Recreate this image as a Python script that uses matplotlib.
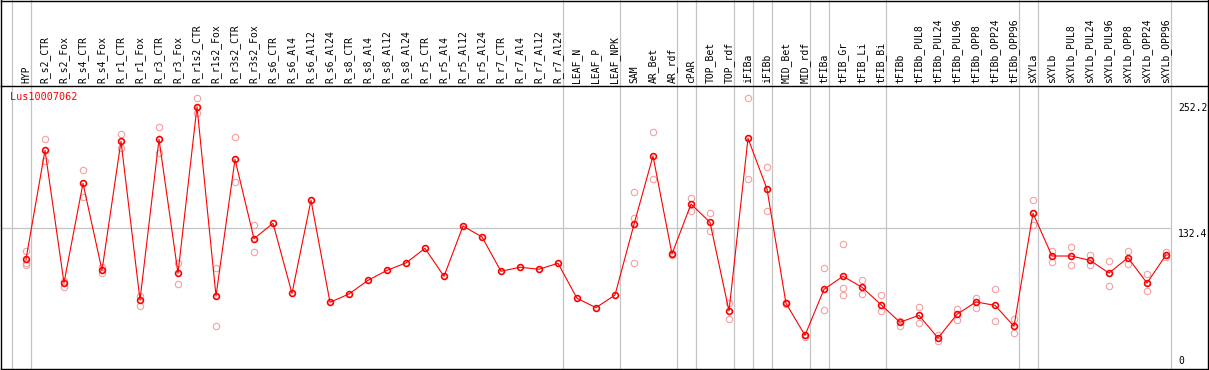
import matplotlib
matplotlib.use("Agg")
import matplotlib.pyplot as plt
from matplotlib.transforms import blended_transform_factory
from matplotlib.lines import Line2D

# ---------------- data ----------------
gene = "Lus10007062"

categories = [
    "HYP", "R_s2_CTR", "R_s2_Fox", "R_s4_CTR", "R_s4_Fox", "R_r1_CTR", "R_r1_Fox",
    "R_r3_CTR", "R_r3_Fox", "R_r1s2_CTR", "R_r1s2_Fox", "R_r3s2_CTR", "R_r3s2_Fox",
    "R_s6_CTR", "R_s6_Al4", "R_s6_Al12", "R_s6_Al24", "R_s8_CTR", "R_s8_Al4",
    "R_s8_Al12", "R_s8_Al24", "R_r5_CTR", "R_r5_Al4", "R_r5_Al12", "R_r5_Al24",
    "R_r7_CTR", "R_r7_Al4", "R_r7_Al12", "R_r7_Al24", "LEAF_N", "LEAF_P", "LEAF_NPK",
    "SAM", "AR_Bet", "AR_rdf", "cPAR", "TOP_Bet", "TOP_rdf", "iFIBa", "iFIBb",
    "MID_Bet", "MID_rdf", "tFIBa", "tFIB_Gr", "tFIB_Li", "tFIB_Bi", "tFIBb",
    "tFIBb_PUL8", "tFIBb_PUL24", "tFIBb_PUL96", "tFIBb_OPP8", "tFIBb_OPP24",
    "tFIBb_OPP96", "sXYLa", "sXYLb", "sXYLb_PUL8", "sXYLb_PUL24", "sXYLb_PUL96",
    "sXYLb_OPP8", "sXYLb_OPP24", "sXYLb_OPP96",
]

means = [
    102.9, 206.5, 80.6, 175.1, 92.4, 215.1, 64.2, 217.0, 89.6, 248.0, 68.0, 197.9, 122.5,
    137.1, 70.5, 159.0, 62.0, 69.9, 82.9, 92.4, 99.4, 113.3, 86.7, 134.5, 124.1,
    91.5, 95.3, 93.4, 99.1, 65.8, 56.9, 68.9,
    136.1, 201.1, 107.9, 155.4, 138.0, 53.7, 217.9, 169.7, 61.0, 30.6,
    74.3, 86.7, 76.3, 59.7, 43.0, 49.6, 28.0, 50.6, 62.3, 59.1, 39.2,
    146.6, 106.0, 106.0, 101.9, 89.8, 104.4, 80.3, 107.0,
]

replicates = [
    [110.8, 99.4, 97.5], [217.0, 196.3], [82.5, 76.8], [187.5, 161.8], [95.3, 90.1],
    [222.0, 208.4], [68.3, 58.8], [228.7, 204.2], [99.1, 79.1], [255.9, 241.7],
    [94.3, 39.7], [218.9, 176.1], [135.2, 109.5],
    [], [], [], [], [], [], [], [], [], [], [], [], [], [], [], [], [], [], [],
    [166.9, 142.1, 99.4], [223.6, 178.9], [108.9, 107.0], [161.2, 149.1],
    [146.6, 129.5], [61.6, 45.8], [255.9, 178.9], [190.3, 148.5], [61.6, 60.4],
    [30.9, 29.3], [94.3, 54.7], [117.4, 75.3, 68.9], [82.9, 69.6], [68.6, 53.4],
    [44.5, 39.7], [57.2, 42.0], [30.9, 24.9], [55.6, 45.4], [66.4, 56.6],
    [74.3, 43.9], [45.8, 32.5], [159.0, 135.2], [111.0, 100.6], [114.9, 97.2],
    [107.2, 97.2], [101.0, 77.5], [110.5, 98.1], [88.6, 72.4], [109.8, 104.8],
]

# index of last category in each group (group separators drawn after these)
group_ends = [-1, 0, 28, 31, 34, 35, 37, 38, 39, 41, 42, 45, 52, 53, 60]

y_ticks = [252.2, 132.4, 0]
grid_value = 132.4

# ---------------- figure ----------------
W, H = 1209, 370
fig = plt.figure(figsize=(W / 100, H / 100), dpi=100)
fig.patch.set_facecolor("white")

ax_left, ax_right, ax_top, ax_bot = 1, 1208, 85.5, 368.5
ax = fig.add_axes([ax_left / W, (H - ax_bot) / H,
                   (ax_right - ax_left) / W, (ax_bot - ax_top) / H])

mono = "DejaVu Sans Mono"
red = "#ff0000"
pink = "#f2a0a0"
grey = "#c4c4c4"

x = list(range(len(categories)))

# replicates
rx, ry = [], []
for i, reps in enumerate(replicates):
    for v in reps:
        rx.append(i)
        ry.append(v)
ax.plot(rx, ry, linestyle="none", marker="o", ms=4.6, mfc="none",
        mec=pink, mew=0.8, zorder=3, clip_on=False)

# mean line
ax.plot(x, means, color=red, lw=0.8, marker="o", ms=4.2, mfc="none",
        mec=red, mew=1.2, zorder=4, clip_on=False)

# scales
px_per_val = 1.0518
zero_px = 367.5
ax.set_ylim((zero_px - ax_bot) / px_per_val, (zero_px - ax_top) / px_per_val)
ax.set_xlim((ax_left - 26) / 19, (ax_right - 26) / 19)

# group separator lines (extend through header)
ext = ax_bot / (ax_bot - ax_top)
for g in group_ends:
    ax.axvline(g + 0.24, ymin=0, ymax=ext, color=grey, lw=0.9, zorder=1,
               clip_on=False)

# horizontal grid line
last_sep = group_ends[-1] + 0.24
ax.hlines(grid_value, ax.get_xlim()[0], last_sep, color=grey, lw=0.9, zorder=1)

# category labels on top
ax.xaxis.tick_top()
ax.set_xticks(x)
ax.set_xticklabels(categories, rotation=90, fontsize=7, family=mono,
                   va="bottom", ha="center")
ax.tick_params(axis="x", length=0, pad=1.5)
ax.set_yticks([])

# right value labels
tr = blended_transform_factory(ax.transData, ax.transData)
lx = (1178 - 26) / 19
for v in y_ticks:
    if v == 0:
        ax.text(lx, v + 1.0, "0", fontsize=7, family=mono, va="bottom",
                ha="left", transform=tr, clip_on=False)
    else:
        ax.text(lx, v - 0.5, f"{v}", fontsize=7, family=mono, va="top",
                ha="left", transform=tr, clip_on=False)

# gene label
ax.text(9 / (ax_right - ax_left), 1 - (91.5 - ax_top) / (ax_bot - ax_top), gene,
        transform=ax.transAxes, color=red, fontsize=7.3, family=mono,
        va="top", ha="left")

for s in ax.spines.values():
    s.set_color("black")
    s.set_linewidth(1.0)
    s.set_zorder(6)

# outer border (header box)
def fl(px0, py0, px1, py1):
    fig.add_artist(Line2D([px0 / W, px1 / W], [(H - py0) / H, (H - py1) / H],
                          color="black", lw=1.0, transform=fig.transFigure))

fl(1, 0.5, 1208, 0.5)
fl(1.0, 0, 1.0, ax_top)
fl(1207.5, 0, 1207.5, ax_top)

fig.savefig("out.png", dpi=100, facecolor="white")
